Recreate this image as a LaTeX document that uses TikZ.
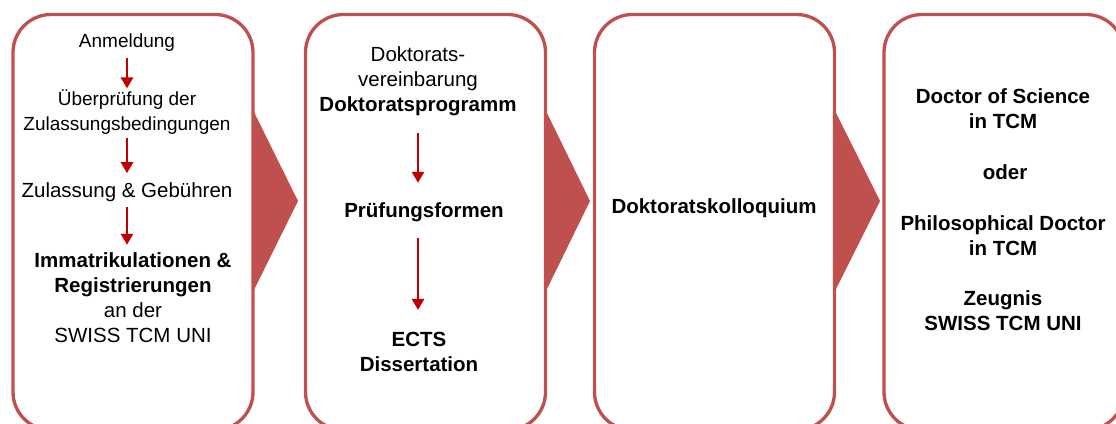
\documentclass[tikz,border=0pt]{standalone}
\usepackage{fontspec}
\setmainfont{Liberation Sans}
\usetikzlibrary{arrows.meta,calc}
\definecolor{boxred}{HTML}{C0504D}
\definecolor{arrowred}{HTML}{C00000}

\begin{document}
\begin{tikzpicture}[x=1pt,y=-1pt,
        stage box/.style={draw=boxred, line width=3.3pt, fill=white, rounded corners=38pt,
          minimum width=240pt, minimum height=415.5pt, inner sep=0pt, outer sep=0pt},
        chevron fill/.style={fill=boxred},
        red arrow/.style={draw=arrowred, line width=2.8pt, -{Triangle[width=12pt,length=11pt]}},
        small text/.style={align=center, inner sep=0pt, font=\fontsize{19}{25}\selectfont},
        plain text/.style={align=center, inner sep=0pt, font=\fontsize{20.5}{25}\selectfont},
        bold text/.style={align=center, inner sep=0pt, font=\fontsize{20.5}{25}\selectfont\bfseries}]
        \useasboundingbox (0,0) rectangle (1116,423);

        \node[stage box] (b1) at (133,222.25)   {};
        \node[stage box] (b2) at (425.5,222.25) {};
        \node[stage box] (b3) at (714.5,222.25) {};
        \node[stage box] (b4) at (1004,222.25)  {};

        \fill[chevron fill] (b1.east |- 0,110) -- ($(b1.east |- 0,201)+(45,0)$) -- (b1.east |- 0,292) -- cycle;
        \fill[chevron fill] (b2.east |- 0,110) -- ($(b2.east |- 0,201)+(44.5,0)$) -- (b2.east |- 0,292) -- cycle;
        \fill[chevron fill] (b3.east |- 0,110) -- ($(b3.east |- 0,201)+(45.5,0)$) -- (b3.east |- 0,292) -- cycle;

        % first stage
        \node[small text] (anm)   at (127,43)    {Anmeldung};
        \node[small text] (pruef) at (127,112)   {Überprüfung der\\Zulassungsbedingungen};
        \node[plain text] (zul)   at (127,192)   {Zulassung \& Gebühren};
        \node[plain text] (imm)   at (133,297.5) {\textbf{Immatrikulationen \&}\\\textbf{Registrierungen}\\an der\\SWISS TCM UNI};
        \draw[red arrow, shorten <=6pt, shorten >=1pt]   (anm.south) -- (pruef.north);
        \draw[red arrow, shorten <=3pt, shorten >=9pt]   (pruef.south) -- (zul.north);
        \draw[red arrow, shorten <=5.5pt, shorten >=7.5pt] (zul.south) -- (zul.south |- imm.north);

        % second stage
        \node[plain text] (vereinb) at (418,81)    {Doktorats-\\vereinbarung\\\textbf{Doktoratsprogramm}};
        \node[bold text]  (formen)  at (424,212)   {Prüfungsformen};
        \node[bold text]  (ects)    at (419,351.5) {ECTS\\Dissertation};
        \draw[red arrow, shorten <=17.5pt, shorten >=19.4pt] (vereinb.south) -- (vereinb.south |- formen.north);
        \draw[red arrow, shorten <=16.4pt, shorten >=21.6pt] (formen.south -| vereinb.south) -- (ects.north -| vereinb.south);

        % third stage
        \node[bold text] (koll) at (714,208) {Doktoratskolloquium};

        % fourth stage
        \node[bold text] (dsc)  at (1003,108.5) {Doctor of Science\\in TCM};
        \node[bold text] (oder) at (1005,172)   {oder};
        \node[bold text] (phd)  at (1003,235.5) {Philosophical Doctor\\in TCM};
        \node[bold text] (zeug) at (1003,310.5) {Zeugnis\\SWISS TCM UNI};
      \end{tikzpicture}
\end{document}
